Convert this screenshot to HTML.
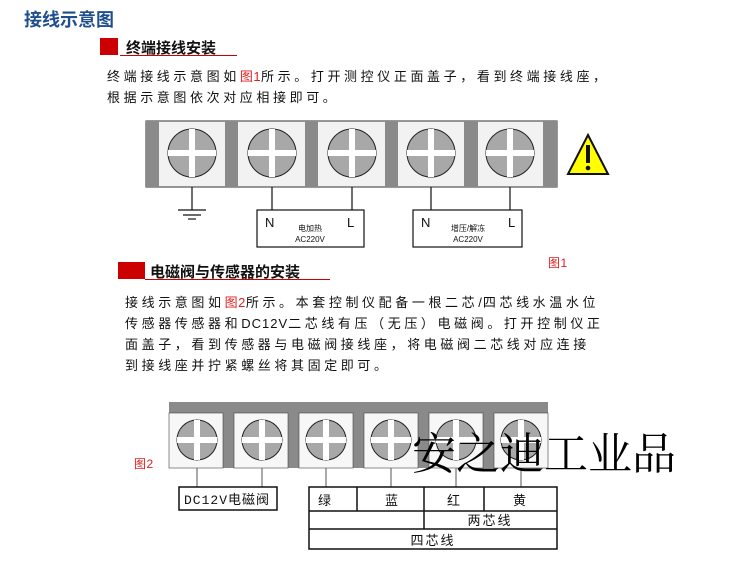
<!DOCTYPE html>
<html><head><meta charset="utf-8"><style>
body{margin:0;width:750px;height:583px;background:#fff;position:relative;overflow:hidden;font-family:"Liberation Sans","Noto Sans CJK SC",sans-serif;}
.a{position:absolute;white-space:nowrap;}
.p{font-size:13px;letter-spacing:3.6px;color:#111;}
.r{color:#e02020;letter-spacing:0.5px;}
.l{letter-spacing:1px;}
</style></head><body>
<div class="a" style="left:24px;top:6px;font-size:18px;font-weight:bold;color:#1f4e8c;">接线示意图</div>

<div class="a" style="left:100px;top:38px;width:18px;height:17px;background:#c00;"></div>
<div class="a" style="left:120px;top:55px;width:117px;height:1px;background:#c00;"></div>
<div class="a" style="left:126px;top:37px;font-size:15px;font-weight:bold;color:#111;">终端接线安装</div>
<div class="a p" style="left:107px;top:66px;">终端接线示意图如<span class="r">图1</span>所示。打开测控仪正面盖子，看到终端接线座，</div>
<div class="a p" style="left:107px;top:87px;">根据示意图依次对应相接即可。</div>

<div class="a" style="left:118px;top:262px;width:27px;height:17px;background:#c00;"></div>
<div class="a" style="left:145px;top:279px;width:185px;height:1px;background:#c00;"></div>
<div class="a" style="left:150px;top:261px;font-size:15px;font-weight:bold;color:#111;">电磁阀与传感器的安装</div>
<div class="a r" style="left:548px;top:254px;font-size:12px;">图1</div>
<div class="a p" style="left:125px;top:292px;">接线示意图如<span class="r">图2</span>所示。本套控制仪配备一根二芯<span class="l">/</span>四芯线水温水位</div>
<div class="a p" style="left:125px;top:313px;">传感器传感器和<span class="l">DC12V</span>二芯线有压（无压）电磁阀。打开控制仪正</div>
<div class="a p" style="left:125px;top:334px;">面盖子，看到传感器与电磁阀接线座，将电磁阀二芯线对应连接</div>
<div class="a p" style="left:125px;top:355px;">到接线座并拧紧螺丝将其固定即可。</div>
<div class="a r" style="left:134px;top:455px;font-size:12px;">图2</div>

<svg class="a" style="left:0;top:0" width="750" height="583">
<defs>
<g id="s1"><circle r="24" fill="#a8a8a8" stroke="#222" stroke-width="1"/><rect x="-24" y="-3" width="48" height="6" fill="#fff"/><rect x="-3" y="-24" width="6" height="48" fill="#fff"/></g>
<g id="s2"><circle r="20" fill="#a8a8a8" stroke="#222" stroke-width="1"/><rect x="-20" y="-3" width="40" height="6" fill="#fff"/><rect x="-3" y="-20" width="6" height="40" fill="#fff"/></g>
</defs>
<rect x="146" y="121" width="411" height="66" fill="#f2f2f2" stroke="#333"/>
<g fill="#8a8a8a">
<rect x="146" y="121" width="13" height="66"/><rect x="225" y="121" width="13" height="66"/><rect x="305" y="121" width="13" height="66"/><rect x="385" y="121" width="13" height="66"/><rect x="464" y="121" width="14" height="66"/><rect x="543" y="121" width="14" height="66"/>
</g>
<use href="#s1" x="192" y="153"/><use href="#s1" x="272" y="153"/><use href="#s1" x="352" y="153"/><use href="#s1" x="431" y="153"/><use href="#s1" x="510" y="153"/>
<g stroke="#111" stroke-width="1.2" fill="none">
<line x1="192" y1="187" x2="192" y2="210"/><line x1="178" y1="210" x2="206" y2="210"/><line x1="183" y1="215" x2="201" y2="215"/><line x1="188" y1="219" x2="196" y2="219"/>
<line x1="272" y1="187" x2="272" y2="210"/><line x1="352" y1="187" x2="352" y2="210"/>
<line x1="431" y1="187" x2="431" y2="210"/><line x1="510" y1="187" x2="510" y2="210"/>
<rect x="257" y="210" width="107" height="37"/><rect x="413" y="210" width="109" height="37"/>
</g>
<g font-family="Liberation Sans,Noto Sans CJK SC,sans-serif" fill="#111">
<text x="265" y="227" font-size="13">N</text><text x="347" y="227" font-size="13">L</text>
<text x="421" y="227" font-size="13">N</text><text x="508" y="227" font-size="13">L</text>
<text x="310" y="231" font-size="8" text-anchor="middle">电加热</text><text x="310" y="242" font-size="8" text-anchor="middle">AC220V</text>
<text x="468" y="231" font-size="8" text-anchor="middle">增压/解冻</text><text x="468" y="242" font-size="8" text-anchor="middle">AC220V</text>
</g>
<polygon points="588,135 608,174 568,174" fill="#ffff00" stroke="#111" stroke-width="2"/>
<rect x="586" y="145" width="4" height="18" fill="#111"/><circle cx="588" cy="168" r="2.3" fill="#111"/>
<rect x="169" y="402" width="379" height="66" fill="#8a8a8a"/>
<g fill="#f7f7f7" stroke="#444" stroke-width="0.6">
<rect x="169" y="413" width="54" height="55"/><rect x="234" y="413" width="54" height="55"/><rect x="299" y="413" width="54" height="55"/><rect x="364" y="413" width="54" height="55"/><rect x="429" y="413" width="54" height="55"/><rect x="494" y="413" width="54" height="55"/>
</g>
<use href="#s2" x="197" y="440"/><use href="#s2" x="262" y="440"/><use href="#s2" x="326" y="440"/><use href="#s2" x="391" y="440"/><use href="#s2" x="456" y="440"/><use href="#s2" x="521" y="440"/>
<g stroke="#555" stroke-width="1">
<line x1="197" y1="468" x2="197" y2="487"/><line x1="262" y1="468" x2="262" y2="487"/>
<line x1="326" y1="468" x2="326" y2="487"/><line x1="391" y1="468" x2="391" y2="487"/><line x1="456" y1="468" x2="456" y2="487"/><line x1="521" y1="468" x2="521" y2="487"/>
</g>
<g stroke="#111" stroke-width="1.5" fill="none">
<rect x="179" y="487" width="98" height="23"/>
<rect x="309" y="487" width="248" height="62"/>
<line x1="309" y1="511" x2="557" y2="511"/><line x1="309" y1="529" x2="557" y2="529"/>
<line x1="357" y1="487" x2="357" y2="511"/><line x1="424" y1="487" x2="424" y2="529"/><line x1="484" y1="487" x2="484" y2="511"/>
</g>
<g font-family="Liberation Mono,Noto Sans CJK SC,monospace" fill="#111" font-size="13">
<text x="184" y="504" letter-spacing="1">DC12V电磁阀</text>
<text x="318" y="505">绿</text><text x="385" y="505">蓝</text><text x="447" y="505">红</text><text x="513" y="505">黄</text>
<text x="490" y="525" text-anchor="middle" letter-spacing="2">两芯线</text>
<text x="433" y="545" text-anchor="middle" letter-spacing="2">四芯线</text>
</g>
<text x="412" y="469" font-family="Liberation Serif,Noto Serif CJK SC,serif" font-size="44" fill="#000">安之迪工业品</text>
</svg>
</body></html>
